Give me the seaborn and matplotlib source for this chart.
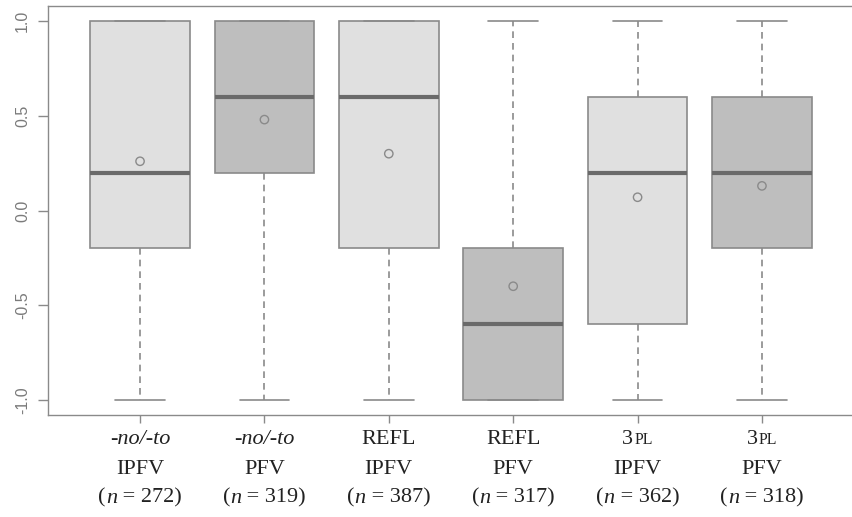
import numpy as np
import pandas as pd
import matplotlib
matplotlib.use("Agg")
import matplotlib.pyplot as plt
import seaborn as sns
from matplotlib.offsetbox import TextArea, HPacker, AnnotationBbox

# ---- data ----
groups = ["-no/-to IPFV", "-no/-to PFV", "REFL IPFV", "REFL PFV", "3PL IPFV", "3PL PFV"]
label_top = ["-no/-to", "-no/-to", "REFL", "REFL", "3PL", "3PL"]
label_mid = ["IPFV", "PFV", "IPFV", "PFV", "IPFV", "PFV"]
n_obs = [272, 319, 387, 317, 362, 318]
whisk_lo = [-1.0, -1.0, -1.0, -1.0, -1.0, -1.0]
q1 = [-0.2, 0.2, -0.2, -1.0, -0.6, -0.2]
medians = [0.2, 0.6, 0.6, -0.6, 0.2, 0.2]
q3 = [1.0, 1.0, 1.0, -0.2, 0.6, 0.6]
whisk_hi = [1.0, 1.0, 1.0, 1.0, 1.0, 1.0]
means = [0.26, 0.48, 0.30, -0.40, 0.07, 0.13]
fills = ["#e0e0e0", "#bebebe", "#e0e0e0", "#bebebe", "#e0e0e0", "#bebebe"]

rows = []
for g, a, b, c, d, e in zip(groups, whisk_lo, q1, medians, q3, whisk_hi):
    for v in (a, b, c, d, e):
        rows.append({"group": g, "value": v})
df = pd.DataFrame(rows)
df_mean = pd.DataFrame({"group": groups, "mean": means})

sns.set_theme(style="white")
plt.rcParams["font.family"] = ["Liberation Sans", "DejaVu Sans"]

fig = plt.figure(figsize=(8.53, 5.17), dpi=100)
ax = fig.add_axes([48 / 853, 1 - 415 / 517, 806 / 853, 409 / 517])

edge = "#8a8a8a"
sns.boxplot(data=df, x="group", y="value", hue="group", palette=fills,
            order=groups, hue_order=groups, legend=False,
            width=0.8, whis=(0, 100), linecolor=edge, linewidth=1.2,
            medianprops={"color": "#6a6a6a", "linewidth": 3},
            whiskerprops={"linestyle": (0, (4, 3)), "color": edge},
            capprops={"color": edge},
            ax=ax)

sns.stripplot(data=df_mean, x="group", y="mean", order=groups, jitter=False,
              marker="o", s=6, facecolor="none", edgecolor="#8a8a8a",
              linewidth=1.0, ax=ax)

ax.set_xlim(-0.74, 5.74)
ax.set_ylim(-1.08, 1.08)
ax.set_xlabel("")
ax.set_ylabel("")
ax.set_yticks([-1.0, -0.5, 0.0, 0.5, 1.0])
ax.set_yticklabels(["-1.0", "-0.5", "0.0", "0.5", "1.0"], rotation=90,
                   va="center", color="#7a7a7a", fontsize=11.5)
ax.set_xticks(range(len(groups)))
ax.set_xticklabels([""] * len(groups))
ax.tick_params(axis="y", length=7, width=1, color="#8a8a8a", direction="out",
               left=True, pad=6)
ax.tick_params(axis="x", length=6, width=1, color="#8a8a8a", direction="out",
               bottom=True)
for sp in ax.spines.values():
    sp.set_color("#8a8a8a")
    sp.set_linewidth(1.0)

serif = ["Liberation Serif", "DejaVu Serif"]
fs = 16
trans = ax.get_xaxis_transform()
for i in range(len(groups)):
    top = label_top[i]
    if top == "3PL":
        box = HPacker(children=[TextArea("3", textprops=dict(family=serif, size=fs, color="#222222")),
                                TextArea("PL", textprops=dict(family=serif, size=fs * 0.72, color="#222222"))],
                      align="baseline", pad=0, sep=1)
    elif top.startswith("-"):
        box = TextArea(top, textprops=dict(family=serif, size=fs, style="italic", color="#222222"))
    else:
        box = TextArea(top, textprops=dict(family=serif, size=fs, color="#222222"))
    ab = AnnotationBbox(box, (i, 0), xycoords=trans, xybox=(0, -25), boxcoords="offset pixels",
                        frameon=False, box_alignment=(0.5, 0.5), annotation_clip=False)
    ax.add_artist(ab)
    ax.annotate(label_mid[i], (i, 0), xycoords=trans, xytext=(0, -54), textcoords="offset pixels",
                ha="center", va="center", family=serif, size=fs, color="#222222",
                annotation_clip=False)
    box3 = HPacker(children=[TextArea("(", textprops=dict(family=serif, size=fs, color="#222222")),
                             TextArea("n", textprops=dict(family=serif, size=fs, style="italic", color="#222222")),
                             TextArea(" = " + str(n_obs[i]) + ")", textprops=dict(family=serif, size=fs, color="#222222"))],
                   align="baseline", pad=0, sep=0)
    ab3 = AnnotationBbox(box3, (i, 0), xycoords=trans, xybox=(0, -83), boxcoords="offset pixels",
                         frameon=False, box_alignment=(0.5, 0.5), annotation_clip=False)
    ax.add_artist(ab3)

fig.savefig("out.png", dpi=100)
